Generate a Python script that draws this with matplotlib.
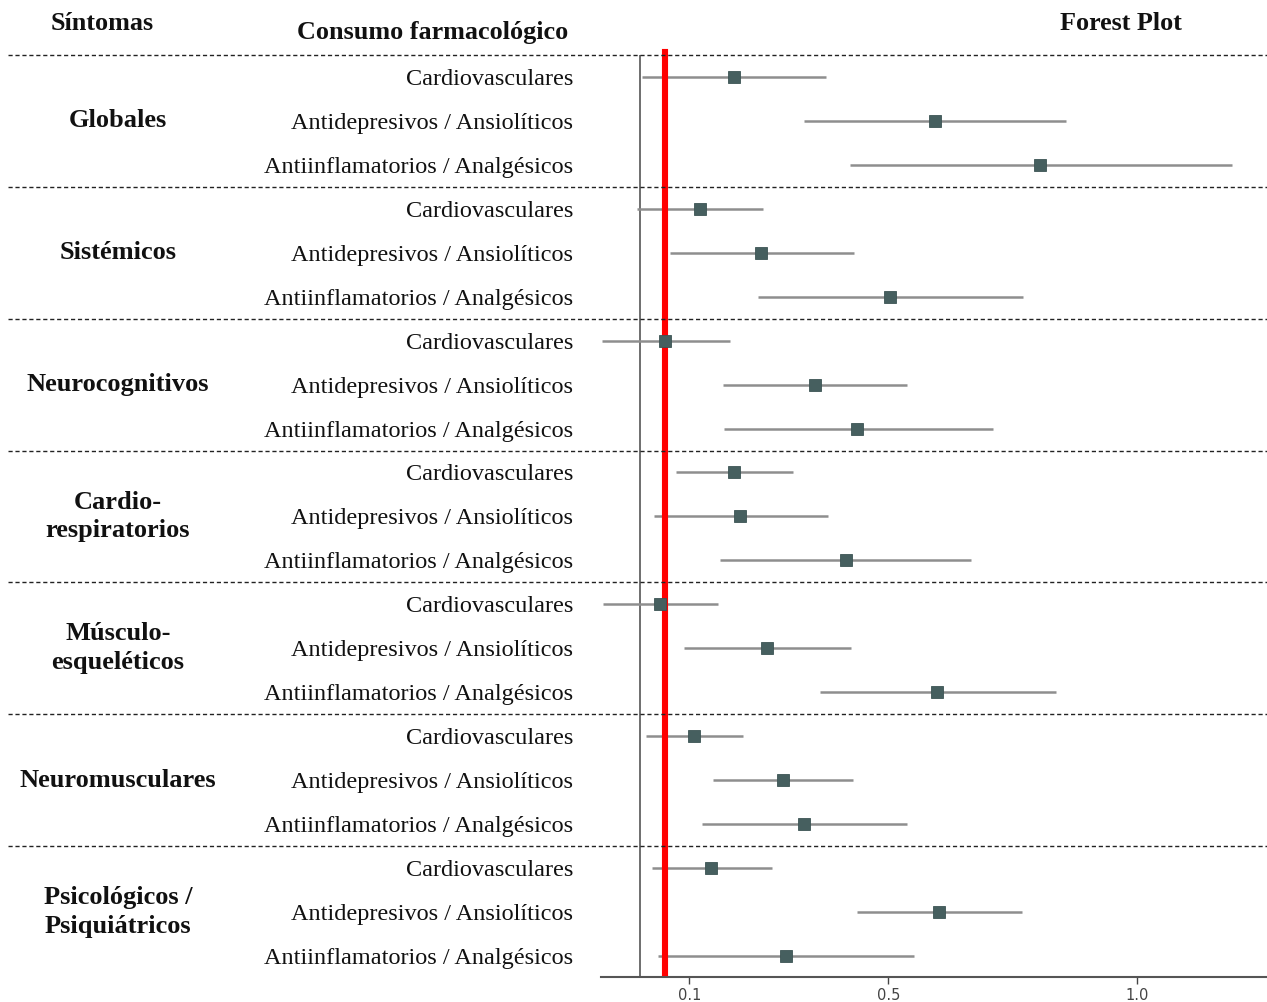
import matplotlib
matplotlib.use('Agg')
import matplotlib.pyplot as plt
import matplotlib.transforms as mtransforms
from matplotlib.lines import Line2D

groups = ['Globales', 'Sistémicos', 'Neurocognitivos', 'Cardio-\nrespiratorios',
          'Músculo-\nesqueléticos', 'Neuromusculares', 'Psicológicos /\nPsiquiátricos']
drugs = ['Cardiovasculares', 'Antidepresivos / Ansiolíticos', 'Antiinflamatorios / Analgésicos']

# effect size and CI, 3 drug rows per group, top to bottom
est = [0.189, 0.594, 0.806,
       0.122, 0.244, 0.504,
       0.051, 0.352, 0.438,
       0.190, 0.202, 0.414,
       0.040, 0.256, 0.599,
       0.110, 0.288, 0.330,
       0.144, 0.603, 0.295]
lo = [0.004, 0.330, 0.422,
      -0.006, 0.060, 0.237,
      -0.076, 0.167, 0.169,
      0.072, 0.028, 0.162,
      -0.074, 0.089, 0.363,
      0.012, 0.148, 0.125,
      0.024, 0.438, 0.036]
hi = [0.374, 0.858, 1.191,
      0.248, 0.431, 0.771,
      0.182, 0.538, 0.711,
      0.308, 0.378, 0.666,
      0.157, 0.425, 0.838,
      0.208, 0.429, 0.537,
      0.266, 0.770, 0.552]
xticks = [0.1, 0.5, 1.0]
ref_line = 0.05

serif = ['Liberation Serif', 'DejaVu Serif']

fig = plt.figure(figsize=(12.67, 10.02), dpi=100)
ax = fig.add_axes([601 / 1267, 25 / 1002, 666 / 1267, 922 / 1002])

rows = list(range(len(est)))
for r in rows:
    ax.plot([lo[r], hi[r]], [r, r], color='#8e8e8e', lw=1.8, solid_capstyle='butt', zorder=2)
ax.plot(est, rows, 's', color='#465f5f', markersize=8.5, markeredgecolor='#3c5454',
        markeredgewidth=0.6, linestyle='none', zorder=4)

ax.axvline(0, color='#555555', lw=1.2, zorder=1)
ax.axvline(ref_line, color='red', lw=4.4, ymin=0.004, ymax=1.003, clip_on=False, zorder=3)

ax.set_ylim(20.48, -0.5)
ax.set_xlim(-0.078, 1.262)
ax.set_yticks([])
ax.set_xticks(xticks)
ax.set_xticklabels([str(t) for t in xticks])
ax.tick_params(axis='x', length=5, width=1, colors='#444444', labelsize=10.5, pad=3)
for s in ['top', 'right', 'left']:
    ax.spines[s].set_visible(False)
ax.spines['bottom'].set_color('#555555')
ax.spines['bottom'].set_linewidth(1.5)

# dashed separators across the whole figure
trans = mtransforms.blended_transform_factory(fig.transFigure, ax.transData)
for k in range(len(groups)):
    yy = 3 * k - 0.5
    fig.add_artist(Line2D([8 / 1267, 1.0], [yy, yy], transform=trans, color='#222222',
                          lw=1.0, linestyle=(0, (3, 2))))

# row labels
for r in rows:
    ax.text(573 / 1267, r, drugs[r % 3], transform=trans, ha='right', va='center_baseline',
            fontsize=17.5, family=serif, color='#111111')
for k, g in enumerate(groups):
    ax.text(118 / 1267, 3 * k + 1, g, transform=trans, ha='center', va='center',
            fontsize=19, family=serif, fontweight='bold', color='#111111',
            linespacing=1.32)

# headers
fig.text(102 / 1267, 1 - 24 / 1002, 'Síntomas', ha='center', va='center',
         fontsize=18.8, family=serif, fontweight='bold', color='#111111')
fig.text(433 / 1267, 1 - 33 / 1002, 'Consumo farmacológico', ha='center', va='center',
         fontsize=18.8, family=serif, fontweight='bold', color='#111111')
fig.text(1121 / 1267, 1 - 24 / 1002, 'Forest Plot', ha='center', va='center',
         fontsize=18.8, family=serif, fontweight='bold', color='#111111')

fig.savefig('out.png', dpi=100)
